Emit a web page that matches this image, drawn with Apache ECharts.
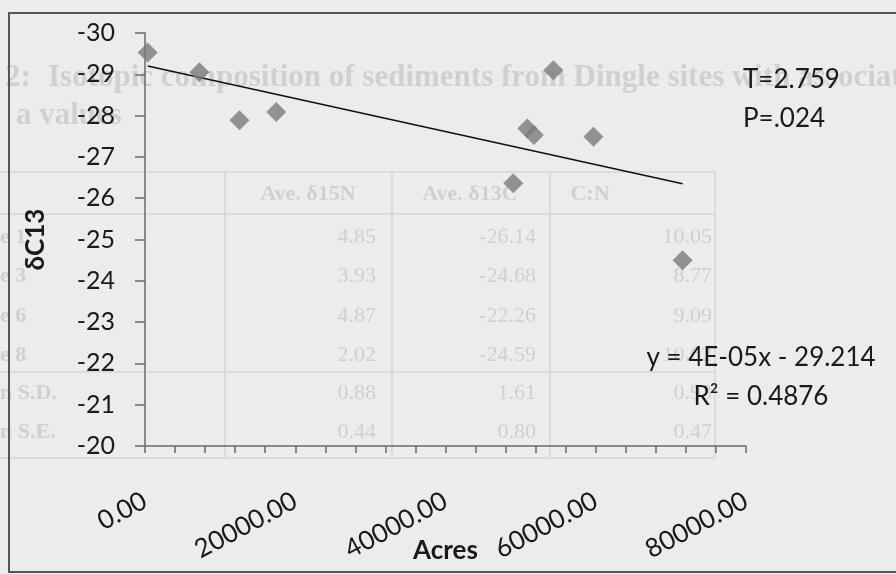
<!DOCTYPE html>
<html>
<head>
<meta charset="utf-8">
<script src="https://cdn.jsdelivr.net/npm/echarts@6/dist/echarts.min.js"></script>
<style>
  html, body { margin: 0; padding: 0; background: #ececec; }
  #chart { width: 896px; height: 574px; }
</style>
</head>
<body>
<div id="chart"></div>
<script>
// values
const acres = [360, 7240, 12570, 17470, 49020, 50890, 51770, 54360, 59690, 71560];
const d13c = [-29.53, -29.05, -27.89, -28.09, -26.36, -27.69, -27.53, -29.10, -27.49, -24.50];
const trendX = [360, 71560];
const trendY = [-29.2, -26.35];
const yTicks = [-30, -20, 1];
const xTicks = [0, 80000, 4000];
const xLabelStep = 20000;
const notes = ["T=2.759", "P=.024"];
const equation = ["y = 4E-05x - 29.214", "R\u00b2 = 0.4876"];

// faint bleed-through of the table on the scanned page
const ghostTitle = ["2:", "Isotopic composition of sediments from Dingle sites with associated", "a values"];
const ghostHeaders = ["Ave. \u03b415N", "Ave. \u03b413C", "C:N"];
const ghostRowLabels = ["e 1", "e 3", "e 6", "e 8", "n S.D.", "n S.E."];
const ghostRows = [
  ["4.85", "-26.14", "10.05"],
  ["3.93", "-24.68", "8.77"],
  ["4.87", "-22.26", "9.09"],
  ["2.02", "-24.59", "10.62"],
  ["0.88", "1.61", "0.93"],
  ["0.44", "0.80", "0.47"]
];

const FONT = "Lato, 'Open Sans', sans-serif";
const INK = "#1a1a1a";
const GHOST = "#d0d0d0";
const GHOST_LINE = "#d6d6d6";

function ghostGraphics() {
  const els = [];
  const titleFont = "bold 31px 'Liberation Serif', serif";
  els.push({ type: "text", left: 5, top: 62, z: -5, style: { text: ghostTitle[0], fill: GHOST, font: titleFont } });
  els.push({ type: "text", left: 48, top: 62, z: -5, style: { text: ghostTitle[1], fill: GHOST, font: titleFont } });
  els.push({ type: "text", left: 16, top: 100, z: -5, style: { text: ghostTitle[2], fill: GHOST, font: titleFont } });
  const hLines = [172, 214, 372, 458];
  hLines.forEach((y) => {
    els.push({ type: "line", z: -5, shape: { x1: 0, y1: y, x2: 715, y2: y },
      style: { stroke: GHOST_LINE, lineWidth: 1.5 } });
  });
  const vLines = [225, 392, 550, 715];
  vLines.forEach((x) => {
    els.push({ type: "line", z: -5, shape: { x1: x, y1: 172, x2: x, y2: 458 },
      style: { stroke: GHOST_LINE, lineWidth: 1.5 } });
  });
  const headerX = [308, 470, 590];
  ghostHeaders.forEach((h, i) => {
    els.push({ type: "text", x: headerX[i], y: 194, z: -5,
      style: { text: h, fill: GHOST, font: "bold 22px 'Liberation Serif', serif",
        textAlign: "center", textVerticalAlign: "middle" } });
  });
  const rowY = [237, 276, 316, 355, 393, 432];
  const colRight = [376, 536, 712];
  ghostRows.forEach((row, r) => {
    els.push({ type: "text", x: 0, y: rowY[r], z: -5,
      style: { text: ghostRowLabels[r], fill: GHOST, font: "bold 22px 'Liberation Serif', serif",
        textAlign: "left", textVerticalAlign: "middle" } });
    row.forEach((v, c) => {
      els.push({ type: "text", x: colRight[c], y: rowY[r], z: -5,
        style: { text: v, fill: GHOST, font: "22px 'Liberation Serif', serif",
          textAlign: "right", textVerticalAlign: "middle" } });
    });
  });
  return els;
}

const chart = echarts.init(document.getElementById("chart"), null, { renderer: "canvas" });

const textEls = [
  { type: "text", left: 743, top: 67, style: { text: notes[0], fill: INK, font: "26px " + FONT } },
  { type: "text", left: 743, top: 106, style: { text: notes[1], fill: INK, font: "26px " + FONT } },
  { type: "text", x: 761, y: 358, style: { text: equation[0], fill: INK, font: "26px " + FONT,
    textAlign: "center", textVerticalAlign: "middle" } },
  { type: "text", x: 761, y: 397, style: { text: equation[1], fill: INK, font: "26px " + FONT,
    textAlign: "center", textVerticalAlign: "middle" } },
  { type: "rect", z: 10, shape: { x: 9, y: 13, width: 900, height: 559 },
    style: { fill: "none", stroke: "#555", lineWidth: 2 } }
];

chart.setOption({
  backgroundColor: "#ececec",
  animation: false,
  grid: { left: 145, top: 33, right: 150, bottom: 128, containLabel: false, outerBoundsMode: "none" },
  xAxis: {
    type: "value",
    min: xTicks[0],
    max: xTicks[1],
    interval: xTicks[2],
    name: "Acres",
    nameLocation: "middle",
    nameGap: 92,
    nameMoveOverlap: false,
    nameTextStyle: { fontFamily: FONT, fontSize: 26, fontWeight: "bold", color: INK },
    axisLine: { onZero: false, lineStyle: { color: "#6a6a6a", width: 1.5 } },
    axisTick: { show: true, length: 7, lineStyle: { color: "#6a6a6a", width: 1.5 } },
    splitLine: { show: false },
    axisLabel: {
      rotate: 28,
      margin: 53,
      fontFamily: FONT,
      fontSize: 26,
      color: INK,
      showMinLabel: true,
      showMaxLabel: true,
      hideOverlap: false,
      formatter: (v) => (v % xLabelStep === 0 ? v.toFixed(2) : "")
    }
  },
  yAxis: {
    type: "value",
    inverse: true,
    min: yTicks[0],
    max: yTicks[1],
    interval: yTicks[2],
    name: "\u03b4C13",
    nameLocation: "middle",
    nameRotate: 90,
    nameGap: 96,
    nameMoveOverlap: false,
    nameTextStyle: { fontFamily: FONT, fontSize: 26, fontWeight: "bold", color: INK },
    axisLine: { show: true, onZero: false, lineStyle: { color: "#6a6a6a", width: 1.5 } },
    axisTick: { show: true, length: 10, lineStyle: { color: "#6a6a6a", width: 1.5 } },
    splitLine: { show: false },
    axisLabel: { margin: 30, fontFamily: FONT, fontSize: 25, color: INK }
  },
  series: [
    {
      type: "line",
      data: trendX.map((x, i) => [x, trendY[i]]),
      symbol: "none",
      lineStyle: { color: "#111", width: 1.5 },
      z: 3
    },
    {
      type: "scatter",
      data: acres.map((x, i) => [x, d13c[i]]),
      symbol: "diamond",
      symbolSize: 20,
      itemStyle: { color: "#7a7a7a" },
      z: 4
    }
  ],
  graphic: ghostGraphics().concat(textEls)
});

window.addEventListener("resize", () => chart.resize());
</script>
</body>
</html>
